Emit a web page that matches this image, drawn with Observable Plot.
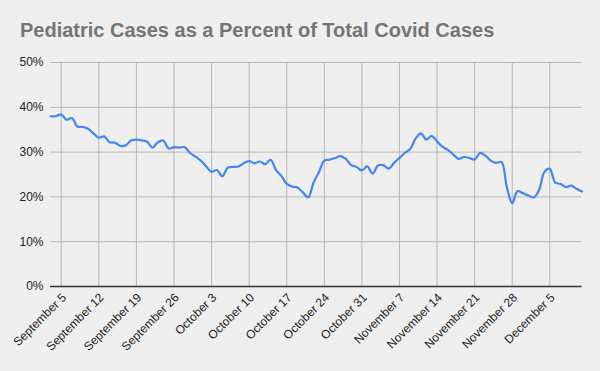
<!DOCTYPE html>
<html>
<head>
<meta charset="utf-8">
<script src="https://cdn.jsdelivr.net/npm/d3@7"></script>
<script src="https://cdn.jsdelivr.net/npm/@observablehq/plot@0.6"></script>
<style>
  html, body { margin: 0; padding: 0; background: #efefef; }
  #wrap { position: relative; width: 600px; height: 371px; background: #efefef; overflow: hidden; }
  #title { position: absolute; left: 20px; top: 18px; font-family: "Liberation Sans", Arial, sans-serif; font-weight: bold; font-size: 20px; line-height: 24px; color: #757575; white-space: nowrap; }
  #chart { position: absolute; left: 0; top: 0; }
</style>
</head>
<body>
<div id="wrap">
  <div id="chart"></div>
  <div id="title"></div>
</div>
<script>
const titleText = "Pediatric Cases as a Percent of Total Covid Cases";
const firstDay = "2020-09-03";
const lastDay = "2020-12-11";
// daily share of pediatric cases (%), Sept 3 – Dec 11
const pctValues = [
  38.0, 38.0, 38.4, 37.2, 37.6, 35.7, 35.6, 35.2, 34.2, 33.2,
  33.5, 32.2, 32.1, 31.4, 31.5, 32.6, 32.8, 32.6, 32.3, 31.0,
  32.2, 32.6, 30.8, 31.1, 31.0, 31.1, 29.8, 29.0, 28.1, 26.8,
  25.6, 26.0, 24.6, 26.5, 26.7, 26.8, 27.5, 28.0, 27.5, 27.9,
  27.3, 28.3, 26.0, 24.7, 22.9, 22.3, 22.1, 21.0, 19.9, 23.2,
  25.5, 28.1, 28.3, 28.7, 29.1, 28.5, 27.1, 26.7, 25.9, 26.8,
  25.2, 27.0, 27.1, 26.3, 27.6, 28.7, 29.8, 30.7, 33.0, 34.2,
  32.8, 33.6, 32.4, 31.2, 30.5, 29.5, 28.5, 28.9, 28.7, 28.3,
  29.8, 29.2, 28.1, 27.6, 27.8, 22.2, 18.6, 21.3, 20.8, 20.3,
  19.9, 21.5, 25.6, 26.3, 23.2, 22.9, 22.2, 22.5, 21.8, 21.2
];
const tickDates = [
  "2020-09-05", "2020-09-12", "2020-09-19", "2020-09-26", "2020-10-03",
  "2020-10-10", "2020-10-17", "2020-10-24", "2020-10-31", "2020-11-07",
  "2020-11-14", "2020-11-21", "2020-11-28", "2020-12-05"
];
const yTicks = [0, 10, 20, 30, 40, 50];

document.getElementById("title").textContent = titleText;

const start = new Date(firstDay + "T00:00:00Z");
const rows = pctValues.map((v, i) => ({ date: d3.utcDay.offset(start, i), pct: v }));
const ticks = tickDates.map(s => new Date(s + "T00:00:00Z"));
const fmt = d3.utcFormat("%B %-d");

const chart = Plot.plot({
  width: 600,
  height: 371,
  marginLeft: 50,
  marginRight: 18.5,
  marginTop: 62,
  marginBottom: 85,
  style: { background: "#efefef", fontFamily: "'Liberation Sans', Arial, sans-serif", fontSize: "12px", color: "#222" },
  x: { type: "utc", domain: [new Date(firstDay + "T00:00:00Z"), new Date(lastDay + "T00:00:00Z")] },
  y: { domain: [0, 50] },
  marks: [
    Plot.gridX(ticks, { stroke: "#b7b7b7", strokeOpacity: 1 }),
    Plot.gridY(yTicks.filter(d => d > 0), { stroke: "#b7b7b7", strokeOpacity: 1 }),
    Plot.axisX(ticks, { tickSize: 0, tickRotate: -45, tickFormat: fmt, tickPadding: 7, dx: 3, dy: 2, label: null, fontSize: 12, fill: "#222" }),
    Plot.axisY(yTicks, { tickSize: 0, tickPadding: 7, tickFormat: d => d + "%", label: null, fontSize: 12, fill: "#222" }),
    Plot.ruleY([0], { stroke: "#333", strokeWidth: 1.3 }),
    Plot.line(rows, { x: "date", y: "pct", stroke: "#4285f4", strokeWidth: 2.2, curve: "catmull-rom" })
  ]
});
document.getElementById("chart").appendChild(chart);
</script>
</body>
</html>
